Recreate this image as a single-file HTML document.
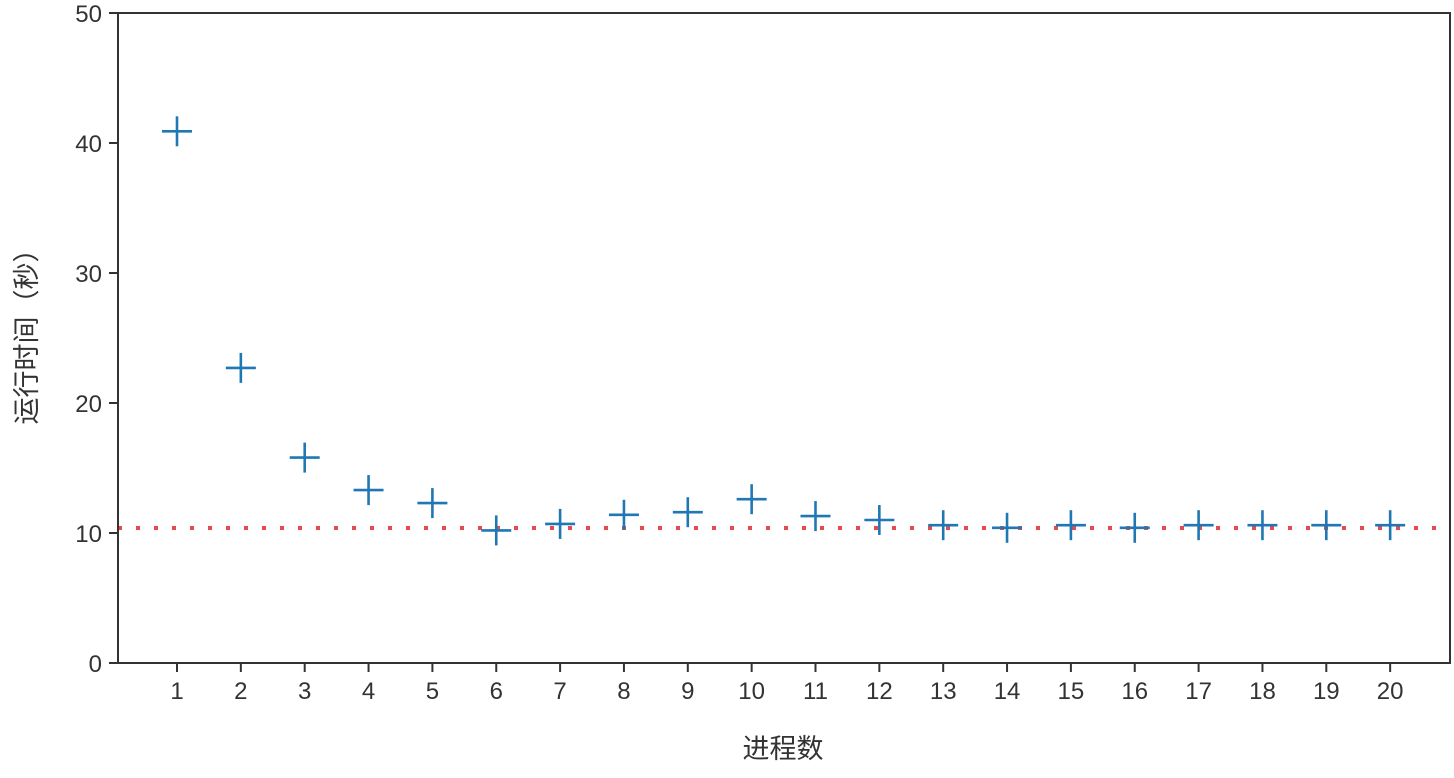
<!DOCTYPE html>
<html><head><meta charset="utf-8"><style>
body{margin:0;background:#fff}
text{font-family:"Liberation Sans","Noto Sans CJK SC",sans-serif;fill:#333}
</style></head><body>
<svg width="1454" height="773" xmlns="http://www.w3.org/2000/svg">
<line x1="118" y1="528" x2="1450" y2="528" stroke="#e84a4a" stroke-width="4" stroke-dasharray="4 14"/>
<g stroke="#1f77b4" stroke-width="2.6" id="pts"></g>
<rect x="118" y="13" width="1332" height="650" fill="none" stroke="#333" stroke-width="2"/>
<g stroke="#333" stroke-width="2" id="ticks"></g>
<g font-size="24" id="labels"></g>
<text x="783" y="758" font-size="27" text-anchor="middle">进程数</text>
<text transform="translate(36,330) rotate(-90)" font-size="27" text-anchor="middle">运行时间（秒）</text>
<script>
var ns="http://www.w3.org/2000/svg";
var v=[40.9,22.7,15.8,13.3,12.3,10.2,10.7,11.4,11.6,12.6,11.3,11.0,10.6,10.4,10.6,10.4,10.6,10.6,10.6,10.6];
var P=document.getElementById('pts'),T=document.getElementById('ticks'),L=document.getElementById('labels');
function el(p,t,a,txt){var e=document.createElementNS(ns,t);for(var k in a)e.setAttribute(k,a[k]);if(txt!=null)e.textContent=txt;p.appendChild(e);}
for(var i=0;i<20;i++){var x=177+i*63.85,y=663-v[i]*13;
el(P,'line',{x1:x-15,y1:y,x2:x+15,y2:y});el(P,'line',{x1:x,y1:y-15,x2:x,y2:y+15});
el(T,'line',{x1:x,y1:663,x2:x,y2:672});
el(L,'text',{x:x,y:699,'text-anchor':'middle'},String(i+1));}
for(var j=0;j<=5;j++){var y=663-j*130;el(T,'line',{x1:109,y1:y,x2:118,y2:y});
el(L,'text',{x:102,y:y+9,'text-anchor':'end'},String(j*10));}
</script>
</svg>
</body></html>
